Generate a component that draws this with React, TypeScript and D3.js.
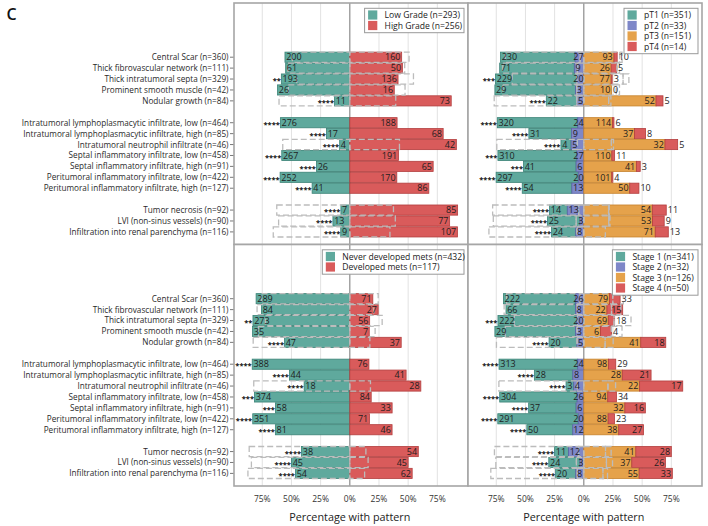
import React from "react";
import * as d3 from "d3";

const ROW_LABELS = [
  "Central Scar (n=360)",
  "Thick fibrovascular network (n=111)",
  "Thick intratumoral septa (n=329)",
  "Prominent smooth muscle (n=42)",
  "Nodular growth (n=84)",
  "Intratumoral lymphoplasmacytic infiltrate, low (n=464)",
  "Intratumoral lymphoplasmacytic infiltrate, high (n=85)",
  "Intratumoral neutrophil infiltrate (n=46)",
  "Septal inflammatory infiltrate, low (n=458)",
  "Septal inflammatory infiltrate, high (n=91)",
  "Peritumoral inflammatory infiltrate, low (n=422)",
  "Peritumoral inflammatory infiltrate, high (n=127)",
  "Tumor necrosis (n=92)",
  "LVI (non-sinus vessels) (n=90)",
  "Infiltration into renal parenchyma (n=116)",
];
// slot of each row (blank slots separate the three blocks)
const ROW_SLOTS = [0, 1, 2, 3, 4, 6, 7, 8, 9, 10, 11, 12, 14, 15, 16];
// rows compared with "pattern absent" (dashed reference boxes)
const HAS_REF = [true, true, true, true, true, false, false, true, false, false, false, false, true, true, true];

// Panel 1: grade
const gradeNames = ["Low Grade (n=293)", "High Grade (n=256)"];
const gradeTotals = [293, 256];
const gradeLow = [200, 61, 193, 26, 11, 276, 17, 4, 267, 26, 252, 41, 7, 13, 9];
const gradeHigh = [160, 50, 136, 16, 73, 188, 68, 42, 191, 65, 170, 86, 85, 77, 107];
const gradeStars = ["", "", "**", "", "****", "****", "****", "****", "****", "****", "****", "****", "****", "****", "****"];

// Panel 2: pT
const ptNames = ["pT1 (n=351)", "pT2 (n=33)", "pT3 (n=151)", "pT4 (n=14)"];
const ptTotals = [351, 33, 151, 14];
const pT1 = [230, 71, 229, 29, 22, 320, 31, 4, 310, 41, 297, 54, 14, 25, 24];
const pT2 = [27, 9, 20, 3, 5, 24, 9, 5, 27, 6, 20, 13, 13, 3, 8];
const pT3 = [93, 26, 77, 10, 52, 114, 37, 32, 110, 41, 101, 50, 54, 53, 71];
const pT4 = [10, 5, 3, 0, 5, 6, 8, 5, 11, 3, 4, 10, 11, 9, 13];
const ptStars = ["", "", "***", "", "****", "****", "****", "****", "***", "***", "****", "****", "****", "****", "****"];

// Panel 3: metastases
const metsNames = ["Never developed mets (n=432)", "Developed mets (n=117)"];
const metsTotals = [432, 117];
const metsNever = [289, 84, 273, 35, 47, 388, 44, 18, 374, 58, 351, 81, 38, 45, 54];
const metsDev = [71, 27, 56, 7, 37, 76, 41, 28, 84, 33, 71, 46, 54, 45, 62];
const metsStars = ["", "", "**", "", "****", "****", "****", "****", "***", "***", "****", "****", "****", "****", "****"];

// Panel 4: stage
const stageNames = ["Stage 1 (n=341)", "Stage 2 (n=32)", "Stage 3 (n=126)", "Stage 4 (n=50)"];
const stageTotals = [341, 32, 126, 50];
const stage1 = [222, 66, 222, 29, 20, 313, 28, 3, 304, 37, 291, 50, 11, 24, 20];
const stage2 = [26, 8, 20, 3, 5, 24, 8, 4, 26, 6, 20, 12, 12, 3, 8];
const stage3 = [79, 22, 69, 6, 41, 98, 28, 22, 94, 32, 88, 38, 41, 37, 55];
const stage4 = [33, 15, 18, 4, 18, 29, 21, 17, 34, 16, 23, 27, 28, 26, 33];
const stageStars = ["", "", "***", "", "****", "****", "****", "****", "****", "****", "****", "****", "****", "****", "****"];

const X_TICKS = [-0.75, -0.5, -0.25, 0, 0.25, 0.5, 0.75];

const TEAL = { fill: "#5fa99d", stroke: "#3a8276" };
const RED = { fill: "#d95b5b", stroke: "#b23e3e" };
const PURPLE = { fill: "#7e87c8", stroke: "#5a63a8" };
const ORANGE = { fill: "#e5a24b", stroke: "#c6822c" };

const FONT = "'Open Sans', 'Noto Sans', 'DejaVu Sans', sans-serif";
const PW = 234;
const PH = 241.5;

type Group = { name: string; total: number; values: number[]; fill: string; stroke: string };

function textW(s: string, size: number) {
  return s.length * size * 0.57;
}

function Panel(props: {
  x0: number; y0: number; groups: Group[]; nLeft: number; stars: string[];
  legendW: number; showY: boolean; showX: boolean;
}) {
  const { x0, y0, groups, nLeft, stars, legendW, showY, showX } = props;
  const cx = x0 + 115.8;
  const x = d3.scaleLinear().domain([-1, 1]).range([cx - 116.7, cx + 116.7]);
  const y = d3.scaleBand<number>().domain(d3.range(17)).range([y0 + 48.74, y0 + 234.36]).paddingInner(0.07).paddingOuter(0.035);
  const bw = y.bandwidth();
  const multi = groups.length > 2;

  const stack = (vals: number[]) => {
    const tot = d3.sum(vals);
    const segs: { a: number; b: number }[] = vals.map(() => ({ a: 0, b: 0 }));
    let cum = 0;
    for (let i = nLeft - 1; i >= 0; i--) {
      const p = vals[i] / tot;
      segs[i] = { a: -(cum + p), b: -cum };
      cum += p;
    }
    cum = 0;
    for (let i = nLeft; i < vals.length; i++) {
      const p = vals[i] / tot;
      segs[i] = { a: cum, b: cum + p };
      cum += p;
    }
    return segs;
  };

  const rows = ROW_LABELS.map((label, r) => {
    const vals = groups.map((g) => g.values[r]);
    const comp = groups.map((g) => g.total - g.values[r]);
    return { label, r, slot: ROW_SLOTS[r], vals, segs: stack(vals), ref: HAS_REF[r] ? stack(comp) : null };
  });

  const bars: React.ReactNode[] = [];
  const dashed: React.ReactNode[] = [];
  const texts: React.ReactNode[] = [];
  rows.forEach((row) => {
    const top = y(row.slot)!;
    const yc = top + bw / 2;
    row.segs.forEach((s, i) => {
      const g = groups[i];
      const xa = x(s.a), xb = x(s.b);
      if (xb - xa > 0) {
        bars.push(<rect key={`b${row.r}-${i}`} x={xa} y={top} width={xb - xa} height={bw} fill={g.fill} stroke={g.stroke} strokeWidth={0.8} />);
      }
      const lab = String(row.vals[i]);
      const tw = textW(lab, 9);
      let tx: number, anchor: string;
      if (i < nLeft) {
        tx = Math.min(xa + 1.2, x(0) - tw - 0.3);
        anchor = "start";
      } else if (i === groups.length - 1 && multi) {
        if (xb - xa >= 15) { tx = xb - 1.2; anchor = "end"; } else { tx = xb + 1.5; anchor = "start"; }
      } else {
        tx = xb - 1.2; anchor = "end";
      }
      texts.push(<text key={`t${row.r}-${i}`} x={tx} y={yc} dy="0.36em" textAnchor={anchor as any} fontSize={9} fill="#1e1e1e">{lab}</text>);
    });
    if (row.ref) {
      row.ref.forEach((s, i) => {
        const xa = x(s.a), xb = x(s.b);
        if (xb - xa > 0.5) {
          dashed.push(<rect key={`d${row.r}-${i}`} x={xa} y={top} width={xb - xa} height={bw} fill="none" stroke="#bcbcbc" strokeWidth={1.3} strokeDasharray="6 3" />);
        }
      });
    }
    if (stars[row.r]) {
      const left = x(row.segs[0].a);
      texts.push(<text key={`s${row.r}`} x={left - 0.5} y={yc + 4.2} textAnchor="end" fontSize={7.5} fontWeight={700} fill="#111">{stars[row.r]}</text>);
    }
    if (showY) {
      texts.push(<line key={`yt${row.r}`} x1={x0 - 4} x2={x0} y1={yc} y2={yc} stroke="#555" strokeWidth={0.8} />);
      texts.push(<text key={`yl${row.r}`} x={x0 - 5.5} y={yc} dy="0.36em" textAnchor="end" fontSize={8.2} fill="#2a2a2a">{row.label}</text>);
    }
  });

  const lx = x0 + PW - 4 - legendW;
  const ly = y0 + 5.3;
  const step = 10.5;

  return (
    <g>
      <rect x={x0} y={y0} width={PW} height={PH} fill="#ffffff" />
      {X_TICKS.filter((t) => t !== 0).map((t) => (
        <line key={`g${t}`} x1={x(t)} x2={x(t)} y1={y0} y2={y0 + PH} stroke="#e2e2e2" strokeWidth={1} />
      ))}
      <line x1={x(0)} x2={x(0)} y1={y0} y2={y0 + PH} stroke="#8c8c8c" strokeWidth={1.2} />
      {bars}
      {dashed}
      {texts}
      <rect x={lx} y={ly} width={legendW} height={groups.length * step + 3.4} fill="#ffffff" stroke="#999" strokeWidth={1} />
      {groups.map((g, i) => (
        <g key={`lg${i}`}>
          <rect x={lx + 3.5} y={ly + 6.7 + i * step - 4.6} width={9.2} height={9.2} fill={g.fill} />
          <text x={lx + 20} y={ly + 6.7 + i * step} dy="0.36em" fontSize={8.6} fill="#222">{g.name}</text>
        </g>
      ))}
      <rect x={x0} y={y0} width={PW} height={PH} fill="none" stroke="#a6a6a6" strokeWidth={1.6} />
      {showX && (
        <g>
          {X_TICKS.map((t) => (
            <text key={`xt${t}`} x={x(t)} y={y0 + PH + 16} textAnchor="middle" fontSize={8.5} fill="#333">{`${Math.round(Math.abs(t) * 100)}%`}</text>
          ))}
          <text x={x(0)} y={y0 + PH + 35} textAnchor="middle" fontSize={10.8} fill="#222">Percentage with pattern</text>
        </g>
      )}
    </g>
  );
}

export default function App() {
  const gradeGroups: Group[] = [
    { name: gradeNames[0], total: gradeTotals[0], values: gradeLow, ...TEAL },
    { name: gradeNames[1], total: gradeTotals[1], values: gradeHigh, ...RED },
  ];
  const ptGroups: Group[] = [
    { name: ptNames[0], total: ptTotals[0], values: pT1, ...TEAL },
    { name: ptNames[1], total: ptTotals[1], values: pT2, ...PURPLE },
    { name: ptNames[2], total: ptTotals[2], values: pT3, ...ORANGE },
    { name: ptNames[3], total: ptTotals[3], values: pT4, ...RED },
  ];
  const metsGroups: Group[] = [
    { name: metsNames[0], total: metsTotals[0], values: metsNever, ...TEAL },
    { name: metsNames[1], total: metsTotals[1], values: metsDev, ...RED },
  ];
  const stageGroups: Group[] = [
    { name: stageNames[0], total: stageTotals[0], values: stage1, ...TEAL },
    { name: stageNames[1], total: stageTotals[1], values: stage2, ...PURPLE },
    { name: stageNames[2], total: stageTotals[2], values: stage3, ...ORANGE },
    { name: stageNames[3], total: stageTotals[3], values: stage4, ...RED },
  ];
  return (
    <svg width={708} height={526} style={{ position: "fixed", left: 0, top: 0, background: "#fff" }} fontFamily={FONT}>
      <rect x={0} y={0} width={708} height={526} fill="#fff" />
      <text x={6.5} y={19.5} fontSize={16} fontWeight={600} fill="#111">C</text>
      <Panel x0={234} y0={3} groups={gradeGroups} nLeft={1} stars={gradeStars} legendW={99.4} showY={true} showX={false} />
      <Panel x0={468} y0={3} groups={ptGroups} nLeft={2} stars={ptStars} legendW={74} showY={false} showX={false} />
      <Panel x0={234} y0={3 + PH} groups={metsGroups} nLeft={1} stars={metsStars} legendW={141.7} showY={true} showX={true} />
      <Panel x0={468} y0={3 + PH} groups={stageGroups} nLeft={2} stars={stageStars} legendW={85.6} showY={false} showX={true} />
    </svg>
  );
}
